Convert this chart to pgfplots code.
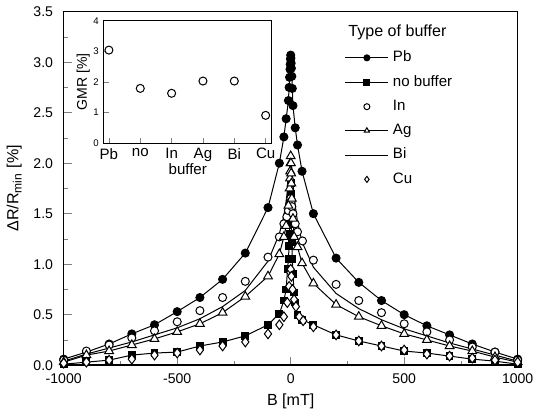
\documentclass[border=0pt]{standalone}
\usepackage{fontspec}
\setmainfont{Liberation Sans}
\usepackage{pgfplots}
\pgfplotsset{compat=1.18}

\begin{document}
\begin{tikzpicture}[font=\fontsize{7}{8.4}\selectfont]
\begin{axis}[
    scale only axis, width=226pt, height=176pt,
    xmin=-1000, xmax=1000, ymin=0, ymax=3.5,
    xtick={-1000,-500,0,500,1000},
    ytick={0,0.5,...,3.5},
    minor x tick num=1, minor y tick num=1,
    tick align=inside, xtick pos=left, ytick pos=left,
    major tick length=4pt, minor tick length=2pt,
    axis line style={line width=0.7pt},
    /pgf/number format/assume math mode=true,
    /pgf/number format/1000 sep={},
    yticklabel style={xshift=-1.8pt, /pgf/number format/.cd, fixed, fixed zerofill, precision=1},
    xticklabel style={yshift=-0.8pt},
    xlabel={B [mT]}, ylabel={ΔR/R\textsubscript{min} [\%]},
    label style={font=\fontsize{8}{9.6}\selectfont},
    xlabel style={yshift=2pt},
    ylabel style={yshift=-1pt},
    every axis plot/.append style={line width=0.5pt, black},
    legend image code/.code={\draw[mark repeat=2,mark phase=2,#1] plot coordinates {(0pt,0pt) (10.75pt,0pt) (21.5pt,0pt)};},
    legend image post style={mark size=1.5pt},
    legend style={at={(0.605,0.913)}, anchor=north west, draw=none, fill=none,
        row sep=1.3pt, font=\fontsize{7.5}{9}\selectfont},
    legend cell align=left,
]
% Pb
\addplot[mark=*, mark size=2pt] coordinates {
(-1000,0.06) (-900,0.13) (-800,0.21) (-700,0.31) (-600,0.40) (-500,0.53)
(-400,0.67) (-300,0.85) (-200,1.11) (-100,1.56) (-50,2.00) (-30,2.26)
(-20,2.44) (-10,2.62) (-7,2.75) (-5,2.85) (-3,2.93) (-2,2.98) (-1,3.03)
(0,3.07) (1,3.04) (2,2.99) (3,2.94) (5,2.86) (7,2.74) (10,2.57) (20,2.35)
(30,2.18) (50,1.92) (100,1.50) (200,1.06) (300,0.82) (400,0.64) (500,0.50)
(600,0.39) (700,0.30) (800,0.21) (900,0.13) (1000,0.06)};
\addlegendentry{Pb}
% no buffer
\addplot[mark=square*, mark size=1.7pt] coordinates {
(-1000,0.01) (-900,0.03) (-800,0.05) (-700,0.10) (-600,0.12) (-500,0.13)
(-400,0.19) (-300,0.23) (-200,0.29) (-100,0.40) (-50,0.51) (-30,0.64)
(-20,0.75) (-14,0.95) (-10,1.05) (-7,1.18) (-5,1.30) (-3,1.45) (-2,1.58)
(-1,1.70) (0,1.80) (1,1.70) (2,1.55) (3,1.40) (5,1.22) (7,1.05) (10,0.90)
(15,0.72) (20,0.62) (30,0.50) (50,0.45) (100,0.40) (200,0.30) (300,0.24)
(400,0.19) (500,0.14) (600,0.12) (700,0.09) (800,0.06) (900,0.04) (1000,0.01)};
\addlegendentry{no buffer}
% In
\addplot[only marks, mark=*, mark size=2pt, mark options={fill=white}] coordinates {
(-1000,0.05) (-900,0.14) (-800,0.20) (-700,0.27) (-600,0.34) (-500,0.43)
(-400,0.54) (-300,0.67) (-200,0.83) (-100,1.07) (-50,1.27) (-30,1.40)
(-17,1.47) (-10,1.53) (-5,1.59) (-2,1.63) (0,1.65) (2,1.62) (5,1.57)
(10,1.50) (20,1.40) (30,1.32) (52,1.23) (100,1.04) (200,0.80) (300,0.64)
(400,0.52) (500,0.41) (600,0.33) (700,0.25) (800,0.18) (900,0.13) (1000,0.05)};
\addlegendentry{In}
% Ag
\addplot[mark=triangle*, mark size=2.5pt, mark options={fill=white}] coordinates {
(-1000,0.03) (-900,0.10) (-800,0.14) (-700,0.20) (-600,0.26) (-500,0.33)
(-400,0.41) (-300,0.52) (-200,0.68) (-100,0.88) (-50,1.10) (-30,1.27)
(-20,1.38) (-10,1.58) (-5,1.75) (-3,1.85) (-2,1.92) (-1,2.00) (0,2.07)
(1,2.00) (2,1.90) (3,1.80) (5,1.65) (10,1.45) (15,1.27) (30,1.17) (50,1.01)
(100,0.81) (200,0.60) (300,0.48) (400,0.39) (500,0.31) (600,0.25) (700,0.19)
(800,0.14) (900,0.08) (1000,0.03)};
\addlegendentry{Ag}
% Bi
\addplot[no marks] coordinates {
(-1000,0.04) (-900,0.11) (-800,0.17) (-700,0.23) (-600,0.30) (-500,0.37)
(-400,0.46) (-300,0.58) (-200,0.74) (-100,1.03) (-50,1.30) (-30,1.48)
(-20,1.62) (-10,1.82) (-5,1.95) (0,2.05) (5,1.95) (10,1.80) (20,1.58)
(30,1.42) (50,1.22) (100,0.97) (200,0.71) (300,0.56) (400,0.45) (500,0.36)
(600,0.29) (700,0.22) (800,0.16) (900,0.10) (1000,0.04)};
\addlegendentry{Bi}
% Cu
\addplot[only marks, mark=diamond*, mark size=2.4pt, mark options={fill=white}] coordinates {
(-1000,0.02) (-900,0.03) (-800,0.05) (-700,0.06) (-600,0.10) (-500,0.12)
(-400,0.15) (-300,0.19) (-200,0.23) (-100,0.31) (-50,0.40) (-30,0.48)
(-15,0.62) (-7,0.78) (-2,0.92) (0,0.95) (3,0.88) (8,0.75) (15,0.65)
(23,0.58) (38,0.48) (55,0.44) (100,0.38) (200,0.30) (300,0.24) (400,0.19)
(500,0.15) (600,0.11) (700,0.09) (800,0.07) (900,0.05) (1000,0.03)};
\addlegendentry{Cu}
\node[anchor=base west, font=\fontsize{8}{9.6}\selectfont] at (axis cs:223,3.25) {Type of buffer};
\end{axis}

\begin{axis}[
    at={(20pt,171.5pt)}, anchor=north west,
    scale only axis, width=83.5pt, height=61pt,
    xmin=0.84, xmax=6.19, ymin=0, ymax=4,
    xtick={1,2,3,4,5,6}, xticklabels={Pb,no,In,Ag,Bi,Cu},
    ytick={0,1,2,3,4},
    tick align=inside, xtick pos=left, ytick pos=left,
    major tick length=2.5pt,
    axis line style={line width=0.6pt},
    axis background/.style={fill=white},
    /pgf/number format/assume math mode=true,
    xticklabel style={font=\fontsize{7.5}{9}\selectfont, yshift=1pt},
    yticklabel style={font=\fontsize{4.8}{5.5}\selectfont, xshift=1pt},
    xlabel={buffer}, ylabel={GMR [\%]},
    xlabel style={font=\fontsize{7.5}{9}\selectfont, yshift=6pt},
    ylabel style={font=\fontsize{7}{8.4}\selectfont, yshift=-5pt},
]
\addplot[only marks, black, mark=*, mark size=2pt, mark options={fill=white}, line width=0.5pt] coordinates {
(1,3.04) (2,1.79) (3,1.63) (4,2.03) (5,2.03) (6,0.91)};
\end{axis}
\end{tikzpicture}
\end{document}
